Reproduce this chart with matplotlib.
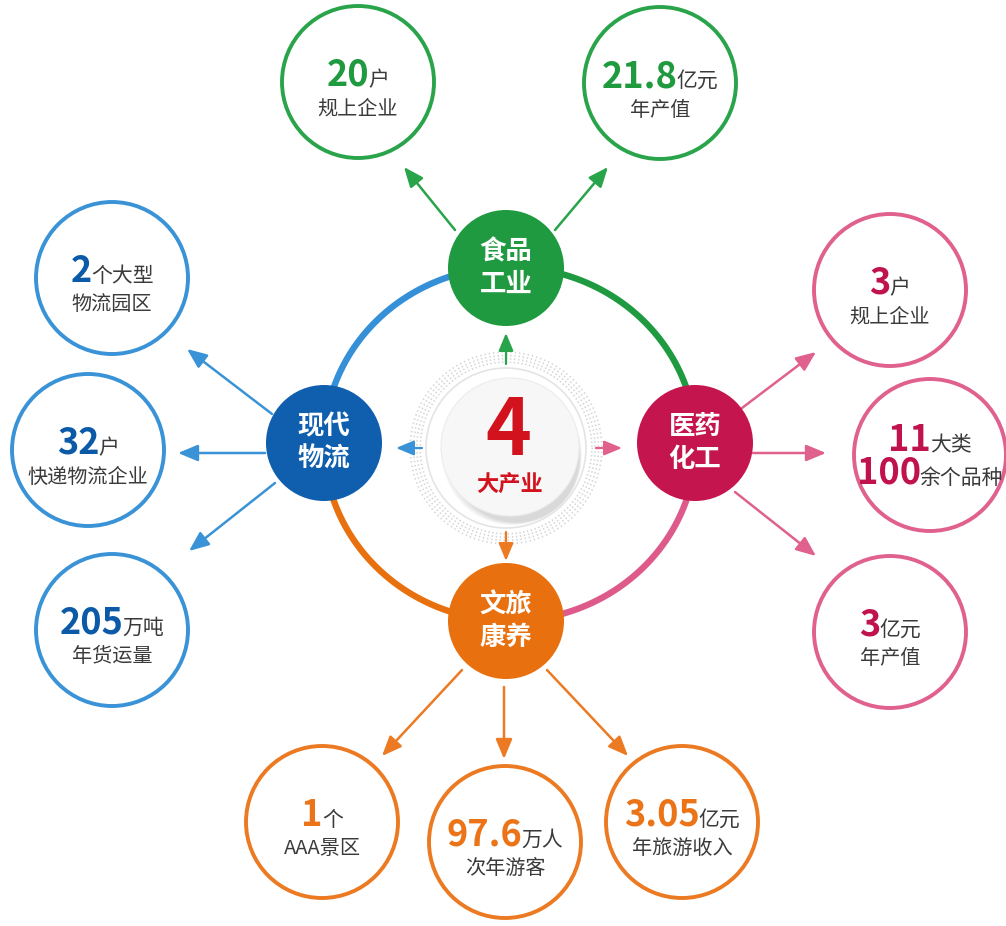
import numpy as np
import matplotlib.pyplot as plt
from matplotlib.patches import Circle
from matplotlib.collections import LineCollection

plt.rcParams['font.family'] = ['Noto Sans CJK SC', 'DejaVu Sans']

# ---- content ----
industries = ['食品\n工业', '现代\n物流', '医药\n化工', '文旅\n康养']

food_nums = ['20', '21.8']
food_units = ['户', '亿元']
food_desc = ['规上企业', '年产值']

logi_nums = ['2', '32', '205']
logi_units = ['个大型', '户', '万吨']
logi_desc = ['物流园区', '快递物流企业', '年货运量']

pharma_nums = ['3', '11', '3']
pharma_units = ['户', '大类', '亿元']
pharma_desc = ['规上企业', ('100', '余个品种'), '年产值']

tour_nums = ['1', '97.6', '3.05']
tour_units = ['个', '万人', '亿元']
tour_desc = ['AAA景区', '次年游客', '年旅游收入']

center_num = '4'
center_label = '大产业'

# ---- layout / styles ----
node_xy = [(506, 268), (324, 443), (695, 443), (506, 621)]
node_r = 58
node_fill = ['#1f9a40', '#0f5fae', '#c5154e', '#e8700e']
line_col = ['#2aa44a', '#3a93d6', '#e0608e', '#ec7a22']
num_col = ['#1f9a3f', '#0b5aa8', '#c0124d', '#ec7418']
gray = '#3a3a3a'

bubble_xy = [
    [(358, 82), (660, 83)],
    [(112, 278), (88, 450), (112, 630)],
    [(890, 290), (930, 455), (890, 632)],
    [(322, 822), (505, 842), (682, 822)],
]
bubble_r = 76

arrows = [
    [((455, 230), (404, 167)), ((555, 230), (608, 167))],
    [((272, 414), (187, 349)), ((265, 453), (178, 453)), ((275, 483), (189, 551))],
    [((742, 408), (816, 352)), ((753, 453), (826, 453)), ((735, 492), (816, 556))],
    [((462, 670), (382, 756)), ((504, 687), (504, 759)), ((547, 670), (628, 756))],
]

fig = plt.figure(figsize=(10.06, 9.26), dpi=100)
ax = fig.add_axes([0, 0, 1, 1])
ax.set_xlim(0, 1006)
ax.set_ylim(926, 0)
ax.axis('off')
renderer = fig.canvas.get_renderer()


def combo(x, y, num, unit, color, nsize=26, usize=15):
    t1 = ax.text(0, y, num, fontsize=nsize, fontweight='heavy', color=color,
                 va='baseline', ha='left', zorder=8)
    t2 = ax.text(0, y, unit, fontsize=usize, color=gray, va='baseline', ha='left',
                 zorder=8)
    w1 = t1.get_window_extent(renderer).width
    w2 = t2.get_window_extent(renderer).width
    x0 = x - (w1 + w2 - 1) / 2
    t1.set_x(x0)
    t2.set_x(x0 + w1 - 1)


# ring between the four nodes
cx, cy, rx, ry = 510, 444, 186, 177
arc_cols = ['#1f9a40', '#3590d8', '#e8700e', '#de5a8a']  # 0-90, 90-180, 180-270, 270-360
for i, c in enumerate(arc_cols):
    t = np.radians(np.linspace(90 * i, 90 * (i + 1), 60))
    ax.plot(cx + rx * np.cos(t), cy - ry * np.sin(t), color=c, lw=4.6,
            solid_capstyle='butt', zorder=1)

# center decoration
ccx, ccy = 506, 448
ang = np.radians(np.arange(0, 360, 2.6))
segs = [[(ccx + 85 * np.cos(a), ccy + 85 * np.sin(a)),
         (ccx + 97 * np.cos(a), ccy + 97 * np.sin(a))] for a in ang]
ax.add_collection(LineCollection(segs, colors='#d4d4d4', linewidths=1.0,
                                 linestyles=(0, (1.2, 1.2)), zorder=2))
ax.add_patch(Circle((ccx, ccy), 80, fc='white', ec='#e4e4e4', lw=1.2, zorder=2))
for k in range(8):
    ax.add_patch(Circle((ccx + 6 + k * 0.6, ccy + 7 + k * 0.6), 70 - k,
                        fc='#9a9a9a', ec='none', alpha=0.05, zorder=3))
ax.add_patch(Circle((ccx + 4, ccy - 1), 69, fc='#f7f7f7', ec='#ececec', lw=0.8, zorder=4))
ax.text(ccx + 2, 455, center_num, fontsize=56, fontweight='heavy', color='#d2121c',
        ha='center', va='baseline', zorder=5)
ax.text(ccx + 4, 485, center_label, fontsize=16, fontweight='bold', color='#d2121c',
        ha='center', va='center', zorder=5)

center_arrows = [((ccx, 364), (ccx, 333)), ((422, ccy), (396, ccy)),
                 ((596, ccy), (622, ccy)), ((ccx, 532), (ccx, 561))]
for (s, e), c in zip(center_arrows, line_col):
    ax.annotate('', xy=e, xytext=s, zorder=5,
                arrowprops=dict(arrowstyle='-|>,head_length=0.6,head_width=0.25',
                                color=c, lw=1.6, shrinkA=0, shrinkB=0, mutation_scale=18))

# industry nodes, arrows and bubbles
groups = [
    (food_nums, food_units, food_desc),
    (logi_nums, logi_units, logi_desc),
    (pharma_nums, pharma_units, pharma_desc),
    (tour_nums, tour_units, tour_desc),
]
for g, (nums, units, descs) in enumerate(groups):
    nx, ny = node_xy[g]
    ax.add_patch(Circle((nx, ny), node_r, fc=node_fill[g], ec='none', zorder=6))
    ax.text(nx, ny, industries[g], fontsize=19, fontweight='bold', color='white',
            ha='center', va='center', linespacing=1.25, zorder=7)
    for (s, e) in arrows[g]:
        ax.annotate('', xy=e, xytext=s, zorder=5,
                    arrowprops=dict(arrowstyle='-|>,head_length=0.6,head_width=0.25',
                                    color=line_col[g], lw=1.8, shrinkA=0, shrinkB=0,
                                    mutation_scale=20))
    for (bx, by), num, unit, desc in zip(bubble_xy[g], nums, units, descs):
        ax.add_patch(Circle((bx, by), bubble_r, fc='white', ec=line_col[g], lw=2.8, zorder=6))
        if isinstance(desc, tuple):
            combo(bx, by - 4, num, unit, num_col[g])
            combo(bx, by + 29, desc[0], desc[1], num_col[g])
        else:
            combo(bx, by + 4, num, unit, num_col[g])
            ax.text(bx, by + 27, desc, fontsize=14.5, color=gray,
                    ha='center', va='center', zorder=8)

fig.savefig('out.png', dpi=100, facecolor='white')
